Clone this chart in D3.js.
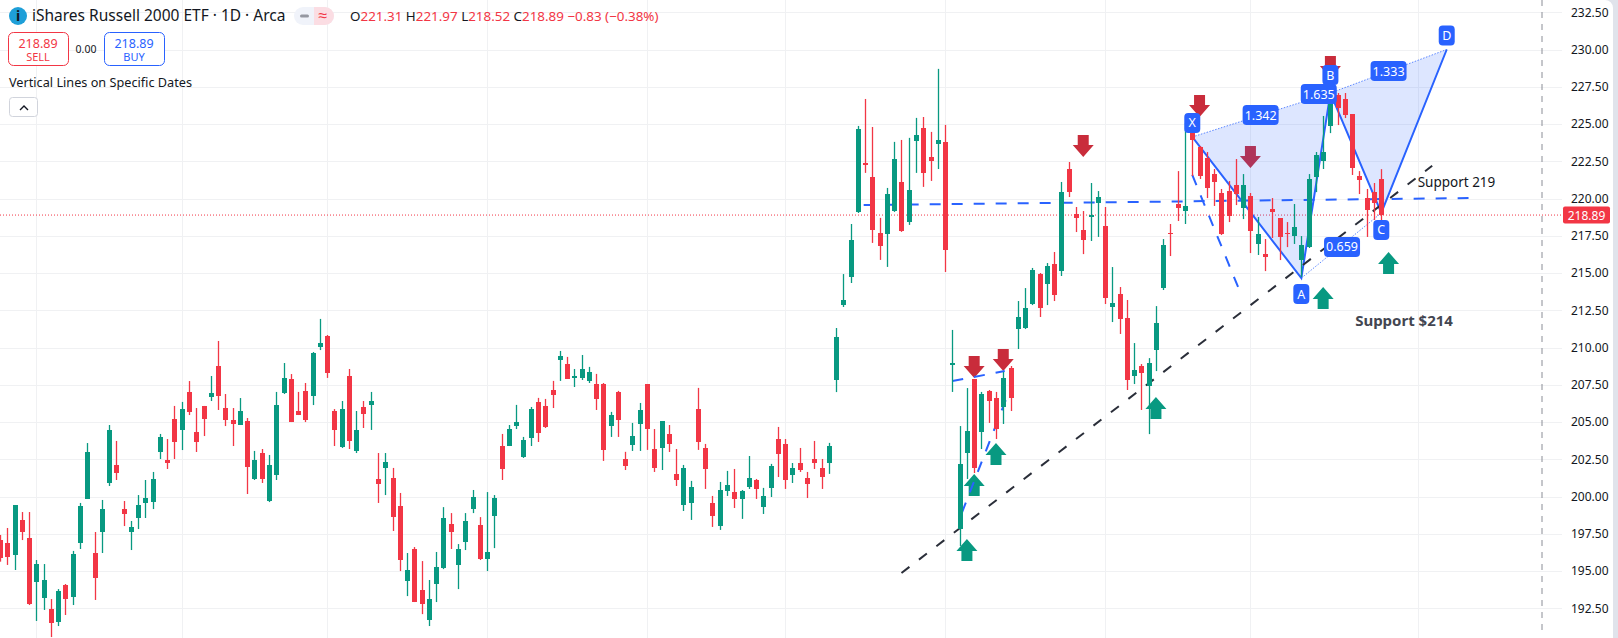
<!DOCTYPE html>
<html><head><meta charset="utf-8">
<script src="https://cdn.jsdelivr.net/npm/d3@7/dist/d3.min.js"></script>
<style>
html,body{margin:0;padding:0;background:#fff;overflow:hidden}
svg{display:block}
text{font-family:"Noto Sans",sans-serif}
</style></head><body>
<svg id="c" width="1618" height="638"></svg>
<script>
// ---------- data (prices) ----------
const opens=[197.08,196.88,196.08,198.43,197.22,194.27,193.19,192.45,191.58,194.06,
193.26,196.88,199.84,196.21,197.62,200.91,202.12,199.16,197.62,198.56,
199.57,199.63,202.99,202.45,205.20,204.47,207.02,204.33,206.08,206.68,
208.76,205.94,205.14,204.80,205.07,201.18,202.92,199.70,201.45,206.95,
207.89,205.74,207.08,206.75,210.03,210.77,205.74,203.32,208.09,203.06,
206.01,206.14,201.18,201.92,201.25,199.37,194.33,196.48,193.72,191.71,
194.13,195.20,198.15,195.40,196.95,199.16,198.09,195.80,198.69,203.39,
203.39,204.74,202.66,203.93,206.35,206.08,207.15,209.17,208.90,207.96,
207.96,207.76,207.55,207.55,204.74,207.02,202.52,203.46,204.87,207.55,
203.19,203.26,204.20,201.52,199.43,199.57,205.88,203.26,199.57,198.03,
200.37,200.31,199.84,200.64,201.11,199.30,200.58,203.86,203.53,201.45,
202.25,201.25,202.52,201.92,202.25,207.82,212.85,214.74,219.10,222.39,
221.45,217.69,217.62,219.17,221.11,218.43,223.86,224.74,222.79,223.66,
223.80,208.83,197.82,202.92,207.89,204.33,207.08,206.61,206.01,208.63,
211.24,211.31,212.92,214.93,214.26,215.60,215.13,221.98,218.96,217.88,
218.76,219.70,218.15,212.72,213.59,211.98,208.09,208.76,207.42,209.83,
213.99,217.68,219.63,219.16,224.66,223.45,222.72,221.64,220.37,220.50,
220.90,219.36,220.17,216.95,216.27,219.29,218.69,217.68,217.48,215.87,
216.74,221.44,222.52,224.86,226.94,226.68,225.67,221.51,220.03,220.43,221.31];
const closes=[195.87,195.94,199.43,197.62,192.79,195.47,194.40,191.51,193.66,193.12,
196.14,199.37,202.99,194.53,199.16,204.47,201.58,198.83,197.96,199.43,
199.90,201.18,204.00,202.25,203.66,205.87,205.67,203.66,205.20,206.95,
206.75,205.14,204.87,205.74,201.98,202.45,201.18,202.12,206.14,207.96,
205.00,205.47,205.14,209.63,210.30,208.29,204.47,205.87,203.73,204.47,
205.54,206.41,200.84,202.32,198.63,195.74,195.07,192.92,192.79,193.12,
195.27,198.56,197.62,196.48,198.36,199.96,195.80,196.28,199.90,201.85,
204.53,205.00,203.80,205.88,204.27,204.67,206.82,209.43,207.89,208.09,
208.56,208.36,206.55,203.13,205.47,205.14,202.05,204.07,205.81,204.53,
201.92,205.07,203.53,201.11,201.92,200.64,203.66,201.85,198.70,200.44,
200.78,199.84,200.37,201.25,200.51,200.04,202.05,202.86,201.11,201.92,
201.78,200.84,202.25,201.31,203.39,210.70,213.19,217.22,224.67,222.25,
217.89,216.82,220.31,222.66,217.82,220.58,224.27,221.72,222.52,223.93,
216.55,208.96,202.18,204.40,201.92,206.88,206.41,204.53,207.96,206.61,
212.05,212.65,215.20,212.65,215.47,213.52,220.43,220.43,218.69,217.21,
218.89,220.10,213.32,212.99,211.91,207.82,208.49,208.29,208.96,211.64,
216.88,217.62,219.36,219.50,223.92,221.51,220.70,221.11,217.62,218.82,
220.30,220.90,217.82,217.62,216.07,219.09,217.42,217.62,218.09,216.88,
221.31,222.92,223.12,226.81,226.07,225.60,222.05,221.24,219.23,219.70,218.89];
const highs=[197.42,197.89,199.43,198.96,198.96,195.74,195.47,193.12,193.79,194.13,
196.35,199.57,203.59,197.62,199.77,204.80,203.73,199.70,198.36,200.10,
201.11,201.65,204.20,203.86,206.08,206.35,207.75,205.94,206.08,208.09,
210.44,206.88,205.94,206.61,205.27,203.06,203.19,202.79,207.02,208.96,
208.22,207.02,207.62,209.70,211.92,210.84,205.87,206.41,208.56,205.74,
206.41,207.02,202.92,202.92,201.92,200.24,196.21,196.61,195.67,194.40,
196.28,199.29,198.89,196.81,198.89,200.44,198.62,200.30,200.10,204.20,
204.80,206.15,204.00,206.01,206.62,206.55,207.76,209.77,209.37,208.56,
209.50,208.70,208.23,207.62,205.68,207.09,203.00,204.94,206.28,207.55,
204.53,205.07,204.80,203.19,202.12,201.05,207.29,203.53,200.04,200.98,
201.72,201.85,200.44,202.72,201.18,200.58,202.19,204.67,203.86,202.25,
203.26,201.65,203.73,202.52,203.60,211.31,214.93,218.29,224.87,226.68,
224.80,218.70,220.71,223.80,223.93,224.07,225.41,225.47,224.47,228.70,
224.94,211.18,204.73,207.28,207.89,207.02,207.15,207.02,208.36,208.76,
213.12,213.99,215.34,215.00,215.67,216.41,221.11,222.45,219.43,219.16,
221.04,220.50,219.43,215.40,214.06,213.19,210.30,208.89,209.29,212.78,
217.28,218.29,221.84,225.07,224.73,223.52,223.12,221.98,220.64,221.17,
222.65,221.64,220.37,218.76,217.28,220.03,218.69,218.42,219.63,217.48,
221.64,223.12,225.54,227.41,227.08,227.08,225.67,221.84,220.64,221.04,221.97];
const lows=[195.63,195.41,195.07,197.08,192.72,191.65,192.39,190.57,191.31,192.05,
192.72,196.48,199.84,193.06,196.21,200.71,201.11,198.02,196.41,197.82,
198.56,199.16,202.52,201.85,202.52,203.12,205.47,202.99,204.06,206.41,
205.81,204.73,203.39,204.80,200.17,201.11,200.91,199.63,201.11,206.88,
205.00,205.47,205.00,206.14,209.83,207.96,203.39,203.26,203.19,202.92,
204.60,204.47,199.57,200.10,197.69,195.00,193.32,192.92,192.11,191.31,
192.92,195.13,196.48,193.79,196.41,198.89,195.74,195.00,196.54,201.11,
203.39,204.53,202.59,203.39,203.66,204.60,205.94,207.76,207.89,207.35,
207.82,207.62,205.81,202.39,204.00,204.00,201.78,203.06,203.06,203.13,
201.65,201.78,202.99,200.71,199.03,198.43,203.13,200.51,197.96,197.76,
200.04,199.23,198.50,200.51,199.84,198.83,199.97,201.31,200.51,200.91,
201.65,199.90,201.85,200.51,201.52,207.01,212.72,214.33,219.03,221.72,
217.02,215.88,215.41,219.10,217.76,218.23,221.72,220.78,221.18,221.98,
215.07,207.02,196.68,201.18,201.58,203.19,204.94,203.86,204.87,205.74,
209.90,211.24,212.85,212.05,212.85,213.12,214.80,220.10,217.75,216.27,
217.15,217.42,212.92,211.71,210.91,207.15,207.55,205.81,204.19,208.42,
213.86,216.14,218.49,218.29,221.51,221.31,220.03,219.50,217.55,218.42,
219.56,218.62,216.34,216.21,215.13,217.35,215.87,216.74,216.95,214.73,
216.68,220.43,221.98,224.39,224.93,225.40,221.58,220.30,217.42,218.56,218.52];

const tickLabels=[232.5,230,227.5,225,222.5,220,217.5,215,212.5,210,207.5,205,202.5,200,197.5,195,192.5];
const monthBars=[5,25,45,67,89,108,130,152,172,195];
const lastPrice=218.89;

// harmonic pattern points [bar, price]
const xabcdNames=["X","A","B","C","D"];
const xabcdBars=[164,179,183,190,199];
const xabcdPrices=[224.13,214.66,227.08,219.03,230.0];
const ratioNames=["1.342","1.635","1.333","0.659"];
const ratioBars=[173.4,181.4,191,184.6];
const ratioPrices=[225.60,227.01,228.55,216.75];

// drawn trend lines [bar, price] pairs
const supportLine={bars:[118.8,202],prices:[219.56,220.03]};
const swingDown={bars:[164,170.3],prices:[221.58,214.06]};
const swingUp={bars:[132.3,138.6],prices:[198.9,206.8]};
const swingFlat={bars:[131,138.2],prices:[207.75,208.42]};
const trendLine={bars:[124,197],prices:[194.87,222.2]};

// signal arrows
const downBars=[149,134,138,165,172,183];
const downPrices=[222.78,207.95,208.42,225.47,222.05,228.09];
const upBars=[133,134,137,159,182,191];
const upPrices=[197.15,201.51,203.59,206.68,214.06,216.41];

const notes=["Support 219","Support $214"];
const noteBars=[195,186.4];
const notePrices=[220.8,211.42];
const ohlcKeys=["O","H","L","C"];
const ohlcVals=["221.31","221.97","218.52","218.89"];

// ---------- scales ----------
const W=1618,H=638,plotR=1562;
const x=d3.scaleLinear().domain([0,190]).range([0,1381.3]);
const y=d3.scaleLinear().domain([230,192.5]).range([49.5,608.3]);
const svg=d3.select("#c");
const GREEN="#089981",RED="#f23645",BLUE="#2962ff",GRID="#f0f1f3";

// ---------- grid ----------
svg.append("g").selectAll("line").data(monthBars).join("line")
 .attr("x1",d=>Math.round(x(d))+.5).attr("x2",d=>Math.round(x(d))+.5).attr("y1",0).attr("y2",H)
 .attr("stroke",GRID).attr("stroke-width",1);
svg.append("g").selectAll("line").data(tickLabels).join("line")
 .attr("x1",0).attr("x2",plotR).attr("y1",d=>Math.round(y(d))+.5).attr("y2",d=>Math.round(y(d))+.5)
 .attr("stroke",GRID).attr("stroke-width",1);

// vertical date line
svg.append("line").attr("x1",1542).attr("x2",1542).attr("y1",0).attr("y2",H-6)
 .attr("stroke","#8a8d96").attr("stroke-width",1).attr("stroke-dasharray","6 6");

// last price line
svg.append("line").attr("x1",0).attr("x2",plotR).attr("y1",y(lastPrice)).attr("y2",y(lastPrice))
 .attr("stroke",RED).attr("stroke-width",1).attr("stroke-dasharray","1 2");

// ---------- arrows (under the pattern fill) ----------
const downArrow=d3.path();downArrow.moveTo(0,0);downArrow.lineTo(-10.5,-12);downArrow.lineTo(-5.5,-12);downArrow.lineTo(-5.5,-22);downArrow.lineTo(5.5,-22);downArrow.lineTo(5.5,-12);downArrow.lineTo(10.5,-12);downArrow.closePath();
const upArrow=d3.path();upArrow.moveTo(0,0);upArrow.lineTo(-10.5,12);upArrow.lineTo(-5.5,12);upArrow.lineTo(-5.5,22);upArrow.lineTo(5.5,22);upArrow.lineTo(5.5,12);upArrow.lineTo(10.5,12);upArrow.closePath();
svg.append("g").selectAll("path").data(downBars).join("path").attr("d",downArrow.toString())
 .attr("transform",(d,i)=>`translate(${x(d)},${y(downPrices[i])})`).attr("fill","#c92c3b");
svg.append("g").selectAll("path").data(upBars).join("path").attr("d",upArrow.toString())
 .attr("transform",(d,i)=>`translate(${x(d)},${y(upPrices[i])})`).attr("fill",GREEN);

// ---------- harmonic pattern ----------
const P=xabcdBars.map((b,i)=>[x(b),y(xabcdPrices[i])]);
const line=d3.line();
svg.append("path").attr("d",line([P[0],P[1],P[2]])+"Z").attr("fill",BLUE).attr("fill-opacity",.16);
svg.append("path").attr("d",line([P[2],P[3],P[4]])+"Z").attr("fill",BLUE).attr("fill-opacity",.16);
[[0,2],[1,3],[2,4]].forEach(([a,b])=>svg.append("path").attr("d",line([P[a],P[b]]))
  .attr("fill","none").attr("stroke",BLUE).attr("stroke-opacity",.75).attr("stroke-width",1).attr("stroke-dasharray","1.5 1.5"));
svg.append("path").attr("d",line(P)).attr("fill","none").attr("stroke",BLUE).attr("stroke-width",2);

// dashed drawings
function dashed(l,col,dash){
 svg.append("path").attr("d",line(l.bars.map((b,i)=>[x(b),y(l.prices[i])])))
  .attr("fill","none").attr("stroke",col).attr("stroke-width",2).attr("stroke-dasharray",dash);
}
dashed(supportLine,BLUE,"11 11");
dashed(swingDown,BLUE,"11 11");
dashed(swingUp,BLUE,"11 11");
dashed(swingFlat,BLUE,"11 11");
dashed(trendLine,"#2a2e39","10 12");

// ---------- candles ----------
const bars=d3.range(opens.length);
const colorOf=i=>closes[i]<opens[i]?RED:GREEN;
const cg=svg.append("g");
cg.selectAll("rect.w").data(bars).join("rect").attr("class","w")
 .attr("x",i=>Math.round(x(i))+.5-.65).attr("width",1.3)
 .attr("y",i=>y(highs[i])).attr("height",i=>y(lows[i])-y(highs[i]))
 .attr("fill",colorOf);
cg.selectAll("rect.b").data(bars).join("rect").attr("class","b")
 .attr("shape-rendering","crispEdges")
 .attr("x",i=>Math.round(x(i))-2).attr("width",5)
 .attr("y",i=>y(Math.max(opens[i],closes[i])))
 .attr("height",i=>Math.max(1.4,Math.abs(y(opens[i])-y(closes[i]))))
 .attr("fill",colorOf);

// ---------- pattern labels ----------
const ptOffset=[-14,16,-18,17,-14]; // label centre relative to point
const lg=svg.append("g");
xabcdNames.forEach((n,i)=>{
 const cx=P[i][0],cy=P[i][1]+ptOffset[i];
 lg.append("rect").attr("x",cx-8).attr("y",cy-10).attr("width",16).attr("height",20).attr("rx",4).attr("fill",BLUE);
 lg.append("text").attr("x",cx).attr("y",cy+4.5).attr("text-anchor","middle").attr("fill","#fff").attr("font-size",12.5).text(n);
});
ratioNames.forEach((n,i)=>{
 const cx=x(ratioBars[i]),cy=y(ratioPrices[i]);
 lg.append("rect").attr("x",cx-18).attr("y",cy-10).attr("width",36).attr("height",20).attr("rx",4).attr("fill",BLUE);
 lg.append("text").attr("x",cx).attr("y",cy+4.5).attr("text-anchor","middle").attr("fill","#fff").attr("font-size",12.5).text(n);
});

// notes
svg.append("text").attr("x",x(noteBars[0])).attr("y",y(notePrices[0])).attr("fill","#131722").attr("font-size",13.5).text(notes[0]);
svg.append("text").attr("x",x(noteBars[1])).attr("y",y(notePrices[1])).attr("fill","#434651").attr("font-size",15).attr("font-weight",700).text(notes[1]);

// ---------- price axis ----------
const axis=d3.axisRight(y).tickValues(tickLabels).tickFormat(d3.format(".2f")).tickSize(0).tickPadding(9);
const ag=svg.append("g").attr("transform",`translate(${plotR},0)`).call(axis);
ag.select(".domain").remove();
ag.selectAll("text").attr("font-size",12).attr("fill","#131722").attr("font-family",'"Noto Sans",sans-serif');
svg.append("rect").attr("x",plotR+1).attr("y",y(lastPrice)-8.5).attr("width",47).attr("height",17).attr("rx",2).attr("fill",RED);
svg.append("text").attr("x",plotR+24.5).attr("y",y(lastPrice)+4.5).attr("text-anchor","middle").attr("fill","#fff").attr("font-size",12).text(d3.format(".2f")(lastPrice));

// right frame
svg.append("path").attr("d",`M${W-5},0 H${W} V${H} H${W-5} V8 A8 8 0 0 0 ${W-13},0 Z`).attr("fill","#e0e3eb");

// ---------- header ----------
const hd=svg.append("g");
hd.append("circle").attr("cx",18).attr("cy",16).attr("r",9).attr("fill","#1e9fd8");
hd.append("text").attr("x",18).attr("y",21).attr("text-anchor","middle").attr("font-size",14).attr("font-weight",700).attr("fill","#131722").text("i");
hd.append("text").attr("x",32).attr("y",21).attr("font-size",15.5).attr("fill","#131722").text("iShares Russell 2000 ETF · 1D · Arca");
hd.append("rect").attr("x",294).attr("y",7).attr("width",40).attr("height",18).attr("rx",9).attr("fill","#f0f3fa");
hd.append("path").attr("d","M314,7 H325 A9 9 0 0 1 325,25 H314 Z").attr("fill","#fbdde3");
hd.append("rect").attr("x",300).attr("y",14.5).attr("width",9).attr("height",3).attr("rx",1.5).attr("fill","#9598a1");
hd.append("text").attr("x",323).attr("y",21).attr("text-anchor","middle").attr("font-size",16).attr("fill","#f23645").text("≈");
const ohlc=hd.append("text").attr("x",350).attr("y",21).attr("font-size",13.4);
ohlcKeys.forEach((k,i)=>{
 ohlc.append("tspan").attr("fill","#131722").text(k);
 ohlc.append("tspan").attr("fill",RED).text(ohlcVals[i]+" ");
});
ohlc.append("tspan").attr("fill",RED).text("−0.83 (−0.38%)");

function tradeBox(bx,col,label){
 hd.append("rect").attr("x",bx+.5).attr("y",32.5).attr("width",60).attr("height",33).attr("rx",5).attr("fill","#fff").attr("stroke",col);
 hd.append("text").attr("x",bx+30).attr("y",48).attr("text-anchor","middle").attr("font-size",12.5).attr("fill",col).text(d3.format(".2f")(lastPrice));
 hd.append("text").attr("x",bx+30).attr("y",61).attr("text-anchor","middle").attr("font-size",11).attr("fill",col).text(label);
}
tradeBox(8,RED,"SELL");
tradeBox(104,BLUE,"BUY");
hd.append("text").attr("x",86).attr("y",53).attr("text-anchor","middle").attr("font-size",10.5).attr("fill","#131722").text("0.00");
hd.append("text").attr("x",9).attr("y",87).attr("font-size",12.7).attr("fill","#131722").text("Vertical Lines on Specific Dates");
hd.append("rect").attr("x",9.5).attr("y",97.5).attr("width",28).attr("height",19).attr("rx",3).attr("fill","#fff").attr("stroke","#d1d4dc");
hd.append("path").attr("d","M20,110 L24,106 L28,110 ").attr("fill","none").attr("stroke","#131722").attr("stroke-width",1.4);
</script>
</body></html>
